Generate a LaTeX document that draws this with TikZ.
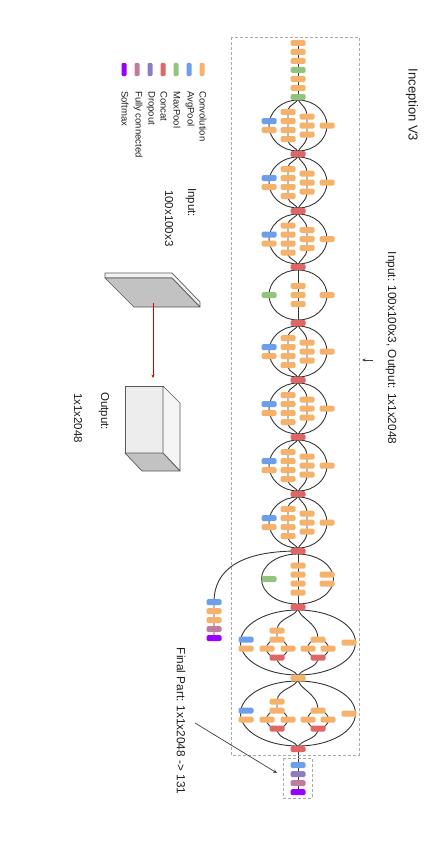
\documentclass[tikz,border=0pt]{standalone}
\usepackage{fontspec}
\setmainfont{Liberation Sans}
\usetikzlibrary{backgrounds,arrows.meta}
\definecolor{cv}{HTML}{F6B26B}
\definecolor{ap}{HTML}{6D9EEB}
\definecolor{mp}{HTML}{93C47D}
\definecolor{cc}{HTML}{E06666}
\definecolor{dp}{HTML}{8E7CC3}
\definecolor{fc}{HTML}{C27BA0}
\definecolor{sm}{HTML}{9900FF}
\definecolor{wirec}{HTML}{353535}
\definecolor{dashc}{HTML}{A8A8A8}
\definecolor{txt}{HTML}{1E1E1E}

% Inception A/B style module: #1 prefix, #2 top node, #3 bottom node, #4 top y, #5 bottom y
\newcommand{\ModA}[5]{%
 \pgfmathsetmacro\mcen{(#4+#5)/2}%
 \pgfmathsetmacro\mry{(#5-#4)/2-3}%
 \node[apb] (#1l1) at (269,\mcen-4.5) {};
 \node[cvb] (#1l2) at (269,\mcen+4.5) {};
 \foreach \k/\dd in {1/-13.5,2/-4.5,3/4.5,4/13.5} {\node[cvb] (#1a\k) at (288,\mcen+\dd) {};}
 \foreach \k/\dd in {1/-9,2/0,3/9} {\node[cvb] (#1b\k) at (307,\mcen+\dd) {};}
 \node[cvb] (#1r) at (327,\mcen) {};
 \begin{scope}[on background layer]
  \draw[wire] (298,\mcen) ellipse [x radius=29pt, y radius=\mry pt];
  \draw[wire] (#2.center) .. controls (298,#4+8) and (288,#4+6) .. (#1a1.center) -- (#1a4.center) .. controls (288,#5-6) and (298,#5-8) .. (#3.center);
  \draw[wire] (#2.center) .. controls (298,#4+8) and (307,#4+8) .. (#1b1.center) -- (#1b3.center) .. controls (307,#5-8) and (298,#5-8) .. (#3.center);
 \end{scope}}

% Reduction A
\newcommand{\RedA}[5]{%
 \pgfmathsetmacro\mcen{(#4+#5)/2}%
 \pgfmathsetmacro\mry{(#5-#4)/2-3}%
 \node[mpb] (#1l) at (269,\mcen) {};
 \foreach \k/\dd in {1/-9,2/0,3/9} {\node[cvb] (#1m\k) at (298,\mcen+\dd) {};}
 \node[cvb] (#1r) at (327,\mcen) {};
 \begin{scope}[on background layer]
  \draw[wire] (298,\mcen) ellipse [x radius=29pt, y radius=\mry pt];
  \draw[wire] (#2.center) -- (#3.center);
 \end{scope}}

% Reduction B
\newcommand{\RedB}[5]{%
 \pgfmathsetmacro\mcen{(#4+#5)/2}%
 \pgfmathsetmacro\mry{(#5-#4)/2-3}%
 \node[mpb] (#1l) at (269,\mcen) {};
 \foreach \k/\dd in {1/-13.5,2/-4.5,3/4.5,4/13.5} {\node[cvb] (#1m\k) at (298,\mcen+\dd) {};}
 \node[cvb] (#1r1) at (327,\mcen-4.5) {};
 \node[cvb] (#1r2) at (327,\mcen+4.5) {};
 \begin{scope}[on background layer]
  \draw[wire] (297.5,\mcen) ellipse [x radius=36pt, y radius=\mry pt];
  \draw[wire] (#2.center) -- (#3.center);
 \end{scope}}

% Inception C
\newcommand{\ModC}[5]{%
 \pgfmathsetmacro\mcen{(#4+#5)/2}%
 \pgfmathsetmacro\mry{(#5-#4)/2-3}%
 \node[apb] (#1l1) at (246,\mcen-3) {};
 \node[cvb] (#1l2) at (246,\mcen+6) {};
 \node[cvb] (#1a1) at (277,\mcen-12) {};
 \node[cvb] (#1a2) at (277,\mcen-3) {};
 \node[cvb] (#1a3) at (267,\mcen+6) {};
 \node[cvb] (#1a4) at (288,\mcen+6) {};
 \node[ccb] (#1a5) at (277,\mcen+15) {};
 \node[cvb] (#1b2) at (318,\mcen-3) {};
 \node[cvb] (#1b3) at (308,\mcen+6) {};
 \node[cvb] (#1b4) at (328,\mcen+6) {};
 \node[ccb] (#1b5) at (318,\mcen+15) {};
 \node[cvb] (#1r) at (349,\mcen) {};
 \begin{scope}[on background layer]
  \draw[wire] (298,\mcen) ellipse [x radius=57.5pt, y radius=\mry pt];
  \draw[wire] (#2.center) .. controls (298,#4+10) and (277,#4+10) .. (#1a1.center) -- (#1a2.center);
  \draw[wire] (277,\mcen+6) ellipse [x radius=10.5pt, y radius=9pt];
  \draw[wire] (#1a5.center) .. controls (277,#5-8) and (298,#5-10) .. (#3.center);
  \draw[wire] (#2.center) .. controls (298,#4+12) and (318,#4+14) .. (#1b2.center);
  \draw[wire] (318,\mcen+6) ellipse [x radius=10.5pt, y radius=9pt];
  \draw[wire] (#1b5.center) .. controls (318,#5-8) and (298,#5-10) .. (#3.center);
 \end{scope}}

\begin{document}
\begin{tikzpicture}[x=1pt,y=-1pt,
  blk/.style={rectangle, rounded corners=1.5pt, minimum width=15pt, minimum height=6pt, inner sep=0pt, draw=none},
  cvb/.style={blk, fill=cv},
  apb/.style={blk, fill=ap},
  mpb/.style={blk, fill=mp},
  ccb/.style={blk, fill=cc},
  dpb/.style={blk, fill=dp},
  fcb/.style={blk, fill=fc},
  smb/.style={blk, fill=sm},
  leg/.style={rectangle, rounded corners=1.2pt, minimum width=5pt, minimum height=13pt, inner sep=0pt},
  wire/.style={draw=wirec, line width=0.9pt},
  dashbox/.style={draw=dashc, line width=0.7pt, dash pattern=on 3pt off 2pt},
  lbl/.style={rotate=-90, inner sep=0pt, text=txt},
  edge3d/.style={draw=black!65, line width=0.7pt, line join=round}]
\useasboundingbox (0,0) rectangle (446,867);

% outer dashed frame
\draw[dashbox] (231,37) rectangle (359,755);

% stem
\node[cvb] (s1) at (298,43) {};
\node[cvb] (s2) at (298,52) {};
\node[cvb] (s3) at (298,61) {};
\node[mpb] (s4) at (298,70) {};
\node[cvb] (s5) at (298,79) {};
\node[cvb] (s6) at (298,88) {};
\node[mpb] (s7) at (298,97) {};
\begin{scope}[on background layer]
 \draw[wire] (s1.center) -- (s7.center);
\end{scope}

% concat / junction blocks
\node[ccb] (k1) at (298,154) {};
\node[ccb] (k2) at (298,211) {};
\node[ccb] (k3) at (298,267) {};
\node[ccb] (k4) at (298,323) {};
\node[ccb] (k5) at (298,380) {};
\node[ccb] (k6) at (298,437) {};
\node[ccb] (k7) at (298,494) {};
\node[ccb] (k8) at (298,551) {};
\node[ccb] (k9) at (298,607) {};
\node[cvb] (k10) at (298,678) {};
\node[ccb] (k11) at (298,749) {};

\ModA{ma}{s7}{k1}{97}{154}
\ModA{mb}{k1}{k2}{154}{211}
\ModA{mc}{k2}{k3}{211}{267}
\RedA{ra}{k3}{k4}{267}{323}
\ModA{md}{k4}{k5}{323}{380}
\ModA{me}{k5}{k6}{380}{437}
\ModA{mf}{k6}{k7}{437}{494}
\ModA{mg}{k7}{k8}{494}{551}
\RedB{rb}{k8}{k9}{551}{607}
\ModC{mh}{k9}{k10}{607}{678}
\ModC{mi}{k10}{k11}{678}{749}

% auxiliary classifier
\node[apb] (x1) at (214,602) {};
\node[cvb] (x2) at (214,611) {};
\node[cvb] (x3) at (214,620) {};
\node[fcb] (x4) at (214,629) {};
\node[smb] (x5) at (214,638) {};
\begin{scope}[on background layer]
 \draw[wire] (k8.center) .. controls (240,551) and (214,570) .. (x1.center) -- (x5.center);
\end{scope}

% final part
\node[apb] (f1) at (298,765) {};
\node[dpb] (f2) at (298,774) {};
\node[fcb] (f3) at (298,783) {};
\node[smb] (f4) at (298,792) {};
\begin{scope}[on background layer]
 \draw[wire] (k11.center) -- (f4.center);
\end{scope}
\draw[dashbox] (283,758) rectangle (312,798);

% labels
\node[lbl, font=\fontsize{13}{15}\selectfont] (title) at (412,105) {Inception V3};
\node[lbl, font=\fontsize{11.8}{14}\selectfont] (io) at (391,348) {Input: 100x100x3, Output: 1x1x2048};
\coordinate (ioa) at (373,360);
\coordinate (iob) at (362,360);
\draw[draw=black!75, line width=0.7pt, -{Stealth[length=3.5pt,width=3pt]}] (ioa) -- (iob);

\node[lbl, font=\fontsize{11.8}{14}\selectfont] (fp) at (181,721) {Final Part: 1x1x2048 -> 131};
\coordinate (fpa) at (195,723);
\coordinate (fpb) at (277,773);
\draw[draw=black!75, line width=0.7pt, -{Stealth[length=4pt,width=3.5pt]}] (fpa) -- (fpb);

% legend
\foreach \i/\col/\xx/\tt in {1/cv/202/Convolution, 2/ap/189/AvgPool, 3/mp/176/MaxPool, 4/cc/163/Concat, 5/dp/150/Dropout, 6/fc/137/Fully connected, 7/sm/124/Softmax} {
  \node[leg, fill=\col] (lg\i) at (\xx,69.5) {};
  \node[lbl, anchor=west, font=\fontsize{9.5}{11}\selectfont] (lt\i) at (\xx+1,91) {\tt};
}

% input / output text
\node[lbl, anchor=west, font=\fontsize{11.5}{13}\selectfont] (inl) at (191,188) {Input:};
\node[lbl, anchor=west, font=\fontsize{11.5}{13}\selectfont] (ins) at (169,190) {100x100x3};
\node[lbl, anchor=west, font=\fontsize{11.5}{13}\selectfont] (outl) at (104,392) {Output:};
\node[lbl, anchor=west, font=\fontsize{11.5}{13}\selectfont] (outs) at (78,393) {1x1x2048};

% input slab
\filldraw[edge3d, fill=black!5] (105,273) -- (172,273) -- (200,302) -- (200,307) -- (172,278) -- (105,278) -- cycle;
\filldraw[edge3d, fill=black!24] (105,278) -- (172,278) -- (200,307) -- (134,307) -- cycle;
% output box
\filldraw[edge3d, fill=black!7] (125,386) rectangle (163,453);
\filldraw[edge3d, fill=black!4] (163,386) -- (180,403) -- (180,471) -- (163,453) -- cycle;
\filldraw[edge3d, fill=black!24] (125,453) -- (163,453) -- (180,471) -- (142,471) -- cycle;
% red arrow
\coordinate (rA) at (153,303);
\coordinate (rB) at (153,378);
\draw[draw=red!85!black, line width=0.6pt, -{Stealth[length=3.5pt,width=3pt]}] (rA) -- (rB);
\end{tikzpicture}
\end{document}
